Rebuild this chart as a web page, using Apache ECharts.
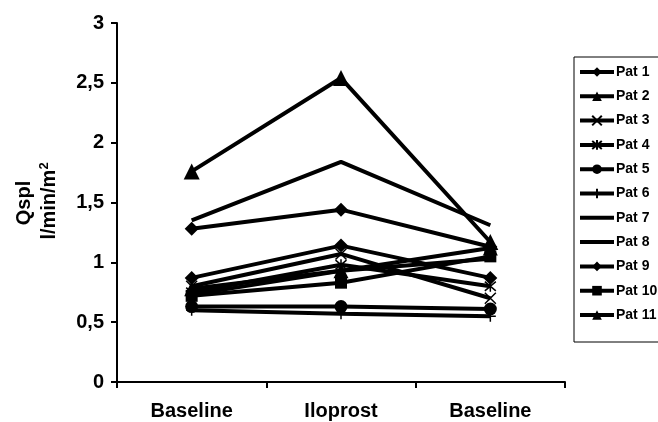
<!DOCTYPE html>
<html>
<head>
<meta charset="utf-8">
<script src="https://cdn.jsdelivr.net/npm/echarts@6/dist/echarts.min.js"></script>
<style>
  html, body { margin: 0; padding: 0; background: #fff; }
  #chart { width: 658px; height: 422px; }
</style>
</head>
<body>
<div id="chart"></div>
<script>
// Phases of the measurement
const categories = ['Baseline', 'Iloprost', 'Baseline'];

// Splanchnic flow per patient, l/min/m2, one value per phase
const pat1  = [1.28, 1.44, 1.13];
const pat2  = [1.76, 2.54, 1.17];
const pat3  = [0.80, 1.07, 0.70];
const pat4  = [0.75, 0.98, 0.80];
const pat5  = [0.63, 0.63, 0.61];
const pat6  = [0.60, 0.57, 0.55];
const pat7  = [1.35, 1.84, 1.31];
const pat8  = [0.73, 0.93, 1.03];
const pat9  = [0.87, 1.14, 0.87];
const pat10 = [0.72, 0.83, 1.05];
const pat11 = [0.78, 0.93, 1.12];

// Y axis ticks
const yTicks = [0, 0.5, 1, 1.5, 2, 2.5, 3];

const FONT = '"Liberation Sans", Arial, sans-serif';

const SYM_X = 'path://M0,0L10,10M10,0L0,10';
const SYM_STAR = 'path://M0,0L10,10M10,0L0,10M5,-1L5,11';
const SYM_PLUS = 'path://M5,0L5,10M0,5L10,5';
// plain thick bar used as the legend key of series without markers
const KEY_LINE = 'path://M0,0L34,0L34,4L0,4Z';

const patients = [
  { name: 'Pat 1',  data: pat1,  symbol: 'diamond',  size: 14 },
  { name: 'Pat 2',  data: pat2,  symbol: 'triangle', size: 16 },
  { name: 'Pat 3',  data: pat3,  symbol: SYM_X,      size: 11, stroke: true },
  { name: 'Pat 4',  data: pat4,  symbol: SYM_STAR,   size: 11, stroke: true },
  { name: 'Pat 5',  data: pat5,  symbol: 'circle',   size: 13 },
  { name: 'Pat 6',  data: pat6,  symbol: SYM_PLUS,   size: 11, stroke: true },
  { name: 'Pat 7',  data: pat7,  symbol: 'none',     size: 0 },
  { name: 'Pat 8',  data: pat8,  symbol: 'none',     size: 0 },
  { name: 'Pat 9',  data: pat9,  symbol: 'diamond',  size: 14 },
  { name: 'Pat 10', data: pat10, symbol: 'rect',     size: 12 },
  { name: 'Pat 11', data: pat11, symbol: 'triangle', size: 15 }
];

const series = patients.map(p => ({
  name: p.name,
  type: 'line',
  data: p.data,
  symbol: p.symbol,
  symbolSize: p.size,
  showSymbol: p.symbol !== 'none',
  lineStyle: { color: '#000', width: 4 },
  itemStyle: p.stroke
    ? { color: '#000', borderColor: '#000', borderWidth: 1.5 }
    : { color: '#000', borderWidth: 0 },
  emphasis: { disabled: true },
  animation: false,
  z: 3
}));

const legendData = patients.map(p => p.symbol === 'none'
  ? { name: p.name, icon: KEY_LINE, itemStyle: { color: '#000', borderWidth: 0 } }
  : { name: p.name });

const chart = echarts.init(document.getElementById('chart'), null, { renderer: 'canvas' });
chart.setOption({
  backgroundColor: '#fff',
  animation: false,
  grid: { left: 117, right: 93, top: 23, bottom: 40 },
  xAxis: {
    type: 'category',
    data: categories,
    boundaryGap: true,
    axisLine: { lineStyle: { color: '#000', width: 2 } },
    axisTick: { show: true, length: 6, lineStyle: { color: '#000', width: 2 } },
    axisLabel: {
      color: '#000', fontFamily: FONT, fontWeight: 'bold', fontSize: 20, margin: 19
    },
    splitLine: { show: false }
  },
  yAxis: {
    type: 'value',
    min: yTicks[0],
    max: yTicks[yTicks.length - 1],
    interval: 0.5,
    axisLine: { show: true, lineStyle: { color: '#000', width: 2 } },
    axisTick: { show: true, length: 6, lineStyle: { color: '#000', width: 2 } },
    axisLabel: {
      color: '#000', fontFamily: FONT, fontWeight: 'bold', fontSize: 20, margin: 13,
      formatter: v => String(v).replace('.', ',')
    },
    splitLine: { show: false }
  },
  legend: {
    orient: 'vertical',
    left: 574,
    top: 57,
    padding: [8, 8, 20, 4],
    itemWidth: 34,
    itemHeight: 12,
    itemGap: 10.3,
    symbolKeepAspect: true,
    lineStyle: { width: 4 },
    borderColor: '#000',
    borderWidth: 1,
    textStyle: { color: '#000', fontFamily: FONT, fontWeight: 'bold', fontSize: 14, padding: [0, 0, 0, -3] },
    data: legendData
  },
  graphic: [
    {
      type: 'text',
      rotation: Math.PI / 2,
      x: 24, y: 203,
      style: {
        text: 'Qspl', fontFamily: FONT, fontWeight: 'bold', fontSize: 20,
        fill: '#000', align: 'center', verticalAlign: 'middle'
      }
    },
    {
      type: 'text',
      rotation: Math.PI / 2,
      x: 49, y: 201,
      style: {
        text: 'l/min/m{sup|2}', fontFamily: FONT, fontWeight: 'bold', fontSize: 20,
        fill: '#000', align: 'center', verticalAlign: 'middle',
        rich: {
          sup: { fontFamily: FONT, fontWeight: 'bold', fontSize: 13, fill: '#000', verticalAlign: 'top', padding: [0, 0, 9, 0] }
        }
      }
    }
  ],
  series: series
});
</script>
</body>
</html>
